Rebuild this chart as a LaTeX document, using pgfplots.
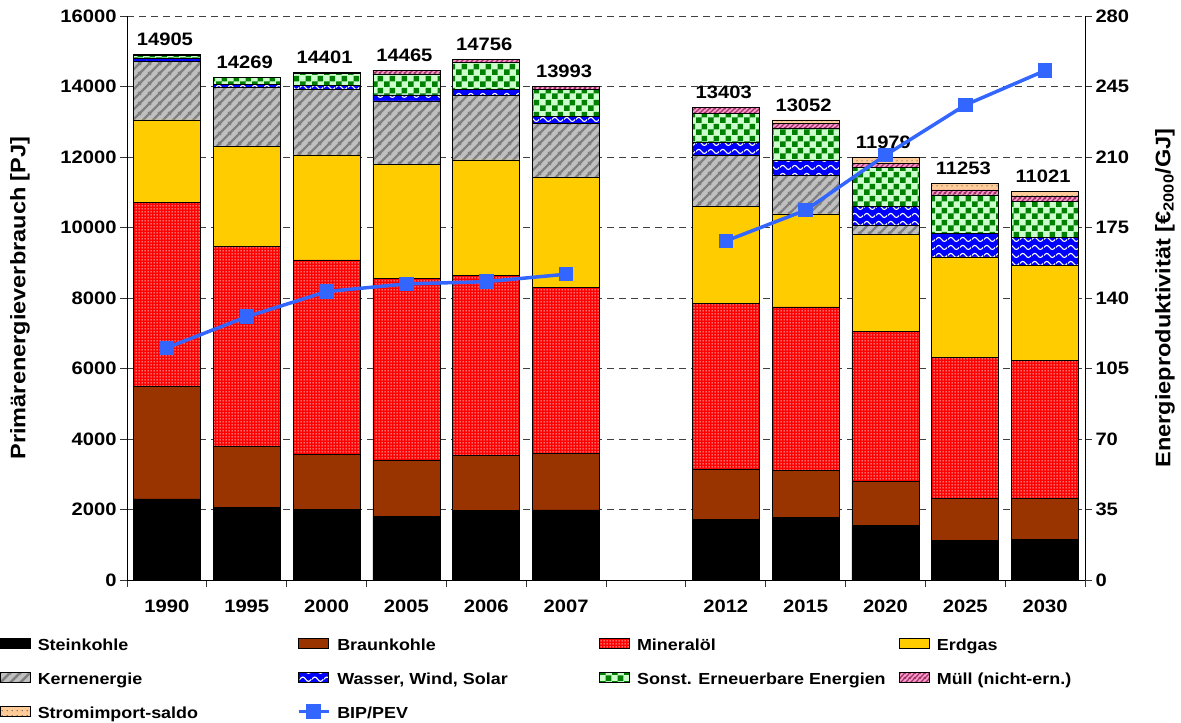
\documentclass[border=0pt]{standalone}
\usepackage{pgfplots}
\pgfplotsset{compat=1.18}
\usepackage{pgfplotstable}
\usepackage{fontspec}
\setmainfont{Liberation Sans}[FakeStretch=1.12]
\usetikzlibrary{patterns}

\definecolor{cBraun}{RGB}{153,51,0}
\definecolor{cGas}{RGB}{255,204,0}
\definecolor{cKern}{RGB}{192,192,192}
\definecolor{cKernS}{RGB}{128,128,128}
\definecolor{cSonstL}{RGB}{204,255,204}
\definecolor{cSonstD}{RGB}{0,128,0}
\definecolor{cMuell}{RGB}{255,153,204}
\definecolor{cMuellS}{RGB}{153,51,102}
\definecolor{cStrom}{RGB}{255,204,153}
\definecolor{cLine}{RGB}{51,102,255}

% patterns
\pgfdeclarepatternformonly{mydots}{\pgfpoint{0bp}{0bp}}{\pgfpoint{3bp}{3bp}}{\pgfpoint{3bp}{3bp}}{%
  \pgfpathrectangle{\pgfpoint{0.9bp}{0.9bp}}{\pgfpoint{1.2bp}{1.2bp}}\pgfusepath{fill}}
\pgfdeclarepatternformonly{kernstripes}{\pgfpoint{0bp}{0bp}}{\pgfpoint{10bp}{10bp}}{\pgfpoint{10bp}{10bp}}{%
  \pgfsetlinewidth{2.6bp}%
  \pgfpathmoveto{\pgfpoint{-1bp}{-1bp}}\pgfpathlineto{\pgfpoint{11bp}{11bp}}%
  \pgfpathmoveto{\pgfpoint{-1bp}{9bp}}\pgfpathlineto{\pgfpoint{1bp}{11bp}}%
  \pgfpathmoveto{\pgfpoint{9bp}{-1bp}}\pgfpathlineto{\pgfpoint{11bp}{1bp}}%
  \pgfusepath{stroke}}
\pgfdeclarepatternformonly{muellstripes}{\pgfpoint{0bp}{0bp}}{\pgfpoint{5bp}{5bp}}{\pgfpoint{5bp}{5bp}}{%
  \pgfsetlinewidth{1.4bp}%
  \pgfpathmoveto{\pgfpoint{-1bp}{-1bp}}\pgfpathlineto{\pgfpoint{6bp}{6bp}}%
  \pgfpathmoveto{\pgfpoint{-1bp}{4bp}}\pgfpathlineto{\pgfpoint{1bp}{6bp}}%
  \pgfpathmoveto{\pgfpoint{4bp}{-1bp}}\pgfpathlineto{\pgfpoint{6bp}{1bp}}%
  \pgfusepath{stroke}}
\pgfdeclarepatternformonly{mywaves}{\pgfpoint{0bp}{0bp}}{\pgfpoint{12bp}{8bp}}{\pgfpoint{12bp}{8bp}}{%
  \pgfsetlinewidth{1.2bp}%
  \pgfpathmoveto{\pgfpoint{0bp}{4bp}}%
  \pgfpathcurveto{\pgfpoint{2bp}{7bp}}{\pgfpoint{4bp}{7bp}}{\pgfpoint{6bp}{4bp}}%
  \pgfpathcurveto{\pgfpoint{8bp}{1bp}}{\pgfpoint{10bp}{1bp}}{\pgfpoint{12bp}{4bp}}%
  \pgfusepath{stroke}}
\pgfdeclarepatternformonly{mychecker}{\pgfpoint{0bp}{0bp}}{\pgfpoint{12bp}{12bp}}{\pgfpoint{12bp}{12bp}}{%
  \pgfpathrectangle{\pgfpoint{0bp}{0bp}}{\pgfpoint{6bp}{6bp}}%
  \pgfpathrectangle{\pgfpoint{6bp}{6bp}}{\pgfpoint{6bp}{6bp}}\pgfusepath{fill}}
\pgfdeclarepatternformonly{stromdots}{\pgfpoint{0bp}{0bp}}{\pgfpoint{5bp}{5bp}}{\pgfpoint{5bp}{5bp}}{%
  \pgfpathcircle{\pgfpoint{2.5bp}{2.5bp}}{0.6bp}\pgfusepath{fill}}

\pgfplotsset{
  mybox/.style={legend image code/.code={\draw[##1] (0bp,-3.3bp) rectangle (30bp,6.7bp);}},
  myline/.style={legend image code/.code={\draw[##1] (0bp,1.7bp) -- (15bp,1.7bp) -- (30bp,1.7bp); \draw[##1,only marks] plot coordinates {(15bp,1.7bp)};}},
  sStein/.style={draw=black, fill=black, line width=0.8bp, mybox},
  sBraun/.style={draw=black, fill=cBraun, line width=0.8bp, mybox},
  sMin/.style={draw=black, line width=0.8bp, preaction={fill=red}, pattern=mydots, pattern color=white, mybox},
  sGas/.style={draw=black, fill=cGas, line width=0.8bp, mybox},
  sKern/.style={draw=black, line width=0.8bp, preaction={fill=cKern}, pattern=kernstripes, pattern color=cKernS, mybox},
  sWasser/.style={draw=black, line width=0.8bp, preaction={fill=blue}, pattern=mywaves, pattern color=white, mybox},
  sSonst/.style={draw=black, line width=0.8bp, preaction={fill=cSonstL}, pattern=mychecker, pattern color=cSonstD, mybox},
  sMuell/.style={draw=black, line width=0.8bp, preaction={fill=cMuell}, pattern=muellstripes, pattern color=cMuellS, mybox},
  sStrom/.style={draw=black, line width=0.8bp, preaction={fill=cStrom}, pattern=stromdots, pattern color=black, mybox},
}

\pgfplotstableread{
x stein braun min gas kern wasser sonst muell strom total
0  2300 3185 5230 2335 1673  60  95 27   0 14905
1  2052 1731 5692 2818 1683  80 190 23   0 14269
2  2005 1560 5513 2979 1863 110 340 31   0 14401
3  1797 1588 5173 3243 1788 170 596 110  0 14465
4  1967 1560 5125 3263 1834 170 766 71   0 14756
5  1986 1598 4709 3120 1532 217 766 65   0 13993
7  1730 1419 4690 2761 1438 369 832 164  0 13403
8  1778 1333 4634 2638 1106 407 917 142 97 13052
9  1541 1268 4245 2752  255 548 1088 123 159 11979
10 1116 1191 4010 2846    0 662 1097 142 189 11253
11 1163 1154 3915 2695    0 785 1021 160 128 11021
}\energy

\pgfplotstableread{
x bip
0 115.3
1 130.7
2 143.2
3 147.0
4 148.1
5 151.8
6 nan
7 168.3
8 183.6
9 210.9
10 235.8
11 252.9
}\bip

\newcommand{\fnt}{\fontsize{18bp}{21bp}\selectfont\bfseries}
\newcommand{\fntL}{\fontsize{16bp}{19bp}\selectfont\bfseries}
\newcommand{\fntT}{\fontsize{21bp}{25bp}\selectfont\bfseries}
\newcommand{\cA}[1]{\makebox[266bp][l]{\hspace{7bp}#1}}
\newcommand{\cB}[1]{\makebox[269bp][l]{\hspace{7bp}#1}}
\newcommand{\cC}[1]{\makebox[269bp][l]{\hspace{7bp}#1}}
\newcommand{\cD}[1]{\hspace{7bp}#1}

\begin{document}
\begin{tikzpicture}[font=\fnt]
\useasboundingbox (0,0) rectangle (1181bp,723bp);
\begin{axis}[
  at={(127bp,143bp)}, anchor=south west,
  scale only axis, width=958bp, height=564bp,
  ybar stacked, bar width=67bp,
  xmin=-0.5, xmax=11.5, ymin=0, ymax=16000,
  enlargelimits=false,
  axis y line*=left, axis x line*=bottom,
  axis line style={line width=0.9bp, black},
  ytick={0,2000,...,16000},
  scaled y ticks=false,
  xtick={-0.5,0.5,...,11.5}, xticklabels={},
  extra x ticks={0,1,2,3,4,5,7,8,9,10,11},
  extra x tick labels={1990,1995,2000,2005,2006,2007,2012,2015,2020,2025,2030},
  extra x tick style={major tick length=0pt, tick label style={yshift=-16bp}},
  tick align=outside, major tick length=7bp,
  tick style={line width=0.8bp, black!80},
  ymajorgrids,
  major grid style={dash pattern=on 7bp off 5bp, line width=0.8bp, black!75},
  tick label style={font=\fnt},
  /pgf/number format/assume math mode=true,
  /pgf/number format/1000 sep={},
  ylabel={Primärenergieverbrauch [PJ]},
  ylabel style={at={(axis description cs:-0.1117,0.5)}, anchor=center, font=\fntT},
]
\addplot[sStein] table[x=x,y=stein]{\energy};
\addplot[sBraun] table[x=x,y=braun]{\energy};
\addplot[sMin] table[x=x,y=min]{\energy};
\addplot[sGas] table[x=x,y=gas]{\energy};
\addplot[sKern] table[x=x,y=kern]{\energy};
\addplot[sWasser] table[x=x,y=wasser]{\energy};
\addplot[sSonst] table[x=x,y=sonst]{\energy};
\addplot[sMuell] table[x=x,y=muell]{\energy};
\addplot[sStrom] table[x=x,y=strom]{\energy};
\end{axis}
% totals above the bars
\begin{axis}[
  at={(127bp,143bp)}, anchor=south west,
  scale only axis, width=958bp, height=564bp,
  xmin=-0.5, xmax=11.5, ymin=0, ymax=16000,
  enlargelimits=false, hide axis, clip=false,
]
\addplot[draw=none, mark=none, nodes near coords, point meta=explicit symbolic,
  nodes near coords align={above},
  every node near coord/.append style={font=\fnt, xshift=-2bp, yshift=8.5bp, text=black, inner sep=0pt}]
  table[x=x,y=total,meta=total]{\energy};
\end{axis}
\begin{axis}[
  at={(127bp,143bp)}, anchor=south west,
  scale only axis, width=958bp, height=564bp,
  xmin=-0.5, xmax=11.5, ymin=0, ymax=280,
  enlargelimits=false,
  axis y line*=right, axis x line=none,
  axis line style={line width=0.9bp, black},
  ytick={0,35,...,280},
  tick align=outside, major tick length=7bp,
  tick style={line width=0.8bp, black!80},
  tick label style={font=\fnt},
  /pgf/number format/assume math mode=true,
  ylabel={Energieproduktivität [€\textsubscript{2000}/GJ]},
  ylabel style={at={(axis description cs:1.0835,0.5)}, anchor=center, font=\fntT},
  unbounded coords=jump,
  legend columns=4,
  legend style={at={(axis description cs:-0.1326,-0.1027)}, anchor=north west,
    draw=none, fill=none, inner sep=0pt, outer sep=0pt,
    column sep=0pt, row sep=21.2bp, font=\fntL,
    nodes={inner sep=0pt, text height=11.5bp, text depth=0bp}},
  legend cell align=left,
]
\addlegendimage{sStein}\addlegendentry{\cA{Steinkohle}}
\addlegendimage{sBraun}\addlegendentry{\cB{Braunkohle}}
\addlegendimage{sMin}\addlegendentry{\cC{Mineralöl}}
\addlegendimage{sGas}\addlegendentry{\cD{Erdgas}}
\addlegendimage{sKern}\addlegendentry{\cA{Kernenergie}}
\addlegendimage{sWasser}\addlegendentry{\cB{Wasser, Wind, Solar}}
\addlegendimage{sSonst}\addlegendentry{\cC{Sonst. Erneuerbare Energien}}
\addlegendimage{sMuell}\addlegendentry{\cD{Müll (nicht-ern.)}}
\addlegendimage{sStrom}\addlegendentry{\cA{Stromimport-saldo}}
\addplot[cLine, line width=3.5bp, mark=square*, mark size=5.5bp, myline] table[x=x,y=bip]{\bip};
\addlegendentry{\cB{BIP/PEV}}
\end{axis}
\end{tikzpicture}
\end{document}
